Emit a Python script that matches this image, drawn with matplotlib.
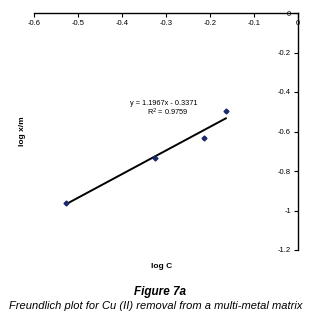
import numpy as np
import matplotlib
matplotlib.use("Agg")
import matplotlib.pyplot as plt

plt.rcParams['font.family'] = ['Liberation Sans', 'DejaVu Sans']

# data
log_c = [-0.527, -0.325, -0.214, -0.164]
log_xm = [-0.962, -0.734, -0.633, -0.496]
slope = 1.1967
intercept = -0.3371
r2 = 0.9759

xticks = [-0.6, -0.5, -0.4, -0.3, -0.2, -0.1, 0]
xtick_labels = ["-0.6", "-0.5", "-0.4", "-0.3", "-0.2", "-0.1", "0"]
yticks = [0, -0.2, -0.4, -0.6, -0.8, -1, -1.2]
ytick_labels = ["0", "-0.2", "-0.4", "-0.6", "-0.8", "-1", "-1.2"]

fig = plt.figure(figsize=(3.23, 3.17), dpi=100)
ax = fig.add_axes([34/323, 1 - 250/317, (298-34)/323, (250-13)/317])

# trendline over the data range
xfit = np.array([min(log_c), max(log_c)])
ax.plot(xfit, slope*xfit + intercept, color='black', lw=1.4, zorder=2)
ax.plot(log_c, log_xm, linestyle='none', marker='D', ms=2.5,
        color='#1a2a6c', zorder=3)

ax.set_xlim(-0.6, 0)
ax.set_ylim(-1.2, 0)

# axes cross at the origin (top-right corner)
ax.spines['bottom'].set_position(('data', 0))
ax.spines['left'].set_position(('data', 0))
ax.spines['top'].set_visible(False)
ax.spines['right'].set_visible(False)
for s in ('bottom', 'left'):
    ax.spines[s].set_linewidth(1.0)

ax.set_xticks(xticks)
ax.set_xticklabels(xtick_labels)
ax.set_yticks(yticks)
ax.set_yticklabels(ytick_labels)
ax.tick_params(direction='out', length=3, width=0.8, labelsize=5.5, pad=2)

ax.text(-0.382, -0.46, "y = 1.1967x - 0.3371", fontsize=5.3, va='center', ha='left')
ax.text(-0.343, -0.505, "R$^2$ = %.4f" % r2, fontsize=5.3, va='center', ha='left')

fig.text(22/323, 1 - 131/317, "log x/m", rotation=90, fontsize=6, fontweight='bold',
         ha='center', va='center')
fig.text(162/323, 1 - 267/317, "log C", fontsize=6, fontweight='bold',
         ha='center', va='center')
fig.text(160/323, 1 - 292/317, "Figure 7a", fontsize=8.5, fontweight='bold',
         fontstyle='italic', ha='center', va='center')
fig.text(156/323, 1 - 306/317, "Freundlich plot for Cu (II) removal from a multi-metal matrix",
         fontsize=8, fontstyle='italic', ha='center', va='center')

fig.savefig("out.png", dpi=100)
